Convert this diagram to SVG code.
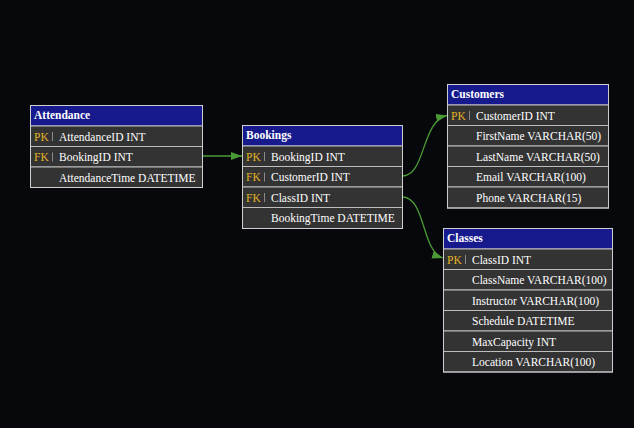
<svg xmlns="http://www.w3.org/2000/svg" width="634" height="428" viewBox="0 0 634 428">
<style>
.bg{fill:#06080c}
.outer{fill:none;stroke:#cfcfcf;stroke-width:1}
.hdr{fill:#161a8c;stroke:#cfcfcf;stroke-width:1}
.row{fill:#333333;stroke:#bdbdbd;stroke-width:1}
.ht{font-family:"Liberation Serif","Times New Roman",serif;font-weight:bold;font-size:11.5px;fill:#ffffff}
.ft{font-family:"Liberation Serif","Times New Roman",serif;font-size:11.5px;fill:#ffffff}
.key{font-family:"Liberation Serif","Times New Roman",serif;font-size:11.5px;fill:#e3b225}
.sep{stroke:#8a8a8a;stroke-width:1}
.edge{fill:none;stroke:#4a9a35;stroke-width:1.3}
</style>
<defs>
<marker id="arr" markerUnits="userSpaceOnUse" markerWidth="11" markerHeight="8" refX="11" refY="4" orient="auto">
<path d="M0,0 L11,4 L0,8 z" fill="#4a9a35"/>
</marker>
</defs>
<rect class="bg" x="0" y="0" width="634" height="428"/>

<g id="connectors">
<path class="edge" d="M202,156 L242,156" marker-end="url(#arr)"/>
<path class="edge" d="M402,176 C426,176 421,121 447,115.5" marker-end="url(#arr)"/>
<path class="edge" d="M402,197 C426,197 421,251 443,258" marker-end="url(#arr)"/>
</g>

<g id="Attendance">
<rect class="hdr" x="30.5" y="105.5" width="172" height="20.5"/>
<rect class="row" x="30.5" y="126" width="172" height="20.5"/>
<rect class="row" x="30.5" y="146.5" width="172" height="20.5"/>
<rect class="row" x="30.5" y="167" width="172" height="20.5"/>
<rect class="outer" x="30.5" y="105.5" width="172" height="82"/>
<text class="ht" x="34" y="119">Attendance</text>
<text class="key" x="34" y="140.5">PK</text><line class="sep" x1="52.5" y1="132" x2="52.5" y2="141"/>
<text class="ft" x="59" y="140.5">AttendanceID INT</text>
<text class="key" x="34" y="161">FK</text><line class="sep" x1="52.5" y1="152.5" x2="52.5" y2="161.5"/>
<text class="ft" x="59" y="161">BookingID INT</text>
<text class="ft" x="59" y="181.5">AttendanceTime DATETIME</text>
</g>

<g id="Bookings">
<rect class="hdr" x="242.5" y="125.5" width="160" height="20.5"/>
<rect class="row" x="242.5" y="146" width="160" height="20.5"/>
<rect class="row" x="242.5" y="166.5" width="160" height="20.5"/>
<rect class="row" x="242.5" y="187" width="160" height="20.5"/>
<rect class="row" x="242.5" y="207.5" width="160" height="21"/>
<rect class="outer" x="242.5" y="125.5" width="160" height="103"/>
<text class="ht" x="246" y="139">Bookings</text>
<text class="key" x="246" y="160.5">PK</text><line class="sep" x1="264.5" y1="152" x2="264.5" y2="161"/>
<text class="ft" x="271" y="160.5">BookingID INT</text>
<text class="key" x="246" y="181">FK</text><line class="sep" x1="264.5" y1="172.5" x2="264.5" y2="181.5"/>
<text class="ft" x="271" y="181">CustomerID INT</text>
<text class="key" x="246" y="201.5">FK</text><line class="sep" x1="264.5" y1="193" x2="264.5" y2="202"/>
<text class="ft" x="271" y="201.5">ClassID INT</text>
<text class="ft" x="271" y="222">BookingTime DATETIME</text>
</g>

<g id="Customers">
<rect class="hdr" x="447.5" y="84.5" width="161" height="20.5"/>
<rect class="row" x="447.5" y="105" width="161" height="20.5"/>
<rect class="row" x="447.5" y="125.5" width="161" height="20.5"/>
<rect class="row" x="447.5" y="146" width="161" height="20.5"/>
<rect class="row" x="447.5" y="166.5" width="161" height="20.5"/>
<rect class="row" x="447.5" y="187" width="161" height="21"/>
<rect class="outer" x="447.5" y="84.5" width="161" height="123.5"/>
<text class="ht" x="451" y="98">Customers</text>
<text class="key" x="451" y="119.5">PK</text><line class="sep" x1="469.5" y1="111" x2="469.5" y2="120"/>
<text class="ft" x="476" y="119.5">CustomerID INT</text>
<text class="ft" x="476" y="140">FirstName VARCHAR(50)</text>
<text class="ft" x="476" y="160.5">LastName VARCHAR(50)</text>
<text class="ft" x="476" y="181">Email VARCHAR(100)</text>
<text class="ft" x="476" y="201.5">Phone VARCHAR(15)</text>
</g>

<g id="Classes">
<rect class="hdr" x="443.5" y="228.5" width="169" height="20.5"/>
<rect class="row" x="443.5" y="249" width="169" height="20.5"/>
<rect class="row" x="443.5" y="269.5" width="169" height="20.5"/>
<rect class="row" x="443.5" y="290" width="169" height="20.5"/>
<rect class="row" x="443.5" y="310.5" width="169" height="20.5"/>
<rect class="row" x="443.5" y="331" width="169" height="20.5"/>
<rect class="row" x="443.5" y="351.5" width="169" height="20.5"/>
<rect class="outer" x="443.5" y="228.5" width="169" height="143.5"/>
<text class="ht" x="447" y="242">Classes</text>
<text class="key" x="447" y="263.5">PK</text><line class="sep" x1="465.5" y1="255" x2="465.5" y2="264"/>
<text class="ft" x="472" y="263.5">ClassID INT</text>
<text class="ft" x="472" y="284">ClassName VARCHAR(100)</text>
<text class="ft" x="472" y="304.5">Instructor VARCHAR(100)</text>
<text class="ft" x="472" y="325">Schedule DATETIME</text>
<text class="ft" x="472" y="345.5">MaxCapacity INT</text>
<text class="ft" x="472" y="366">Location VARCHAR(100)</text>
</g>
</svg>
